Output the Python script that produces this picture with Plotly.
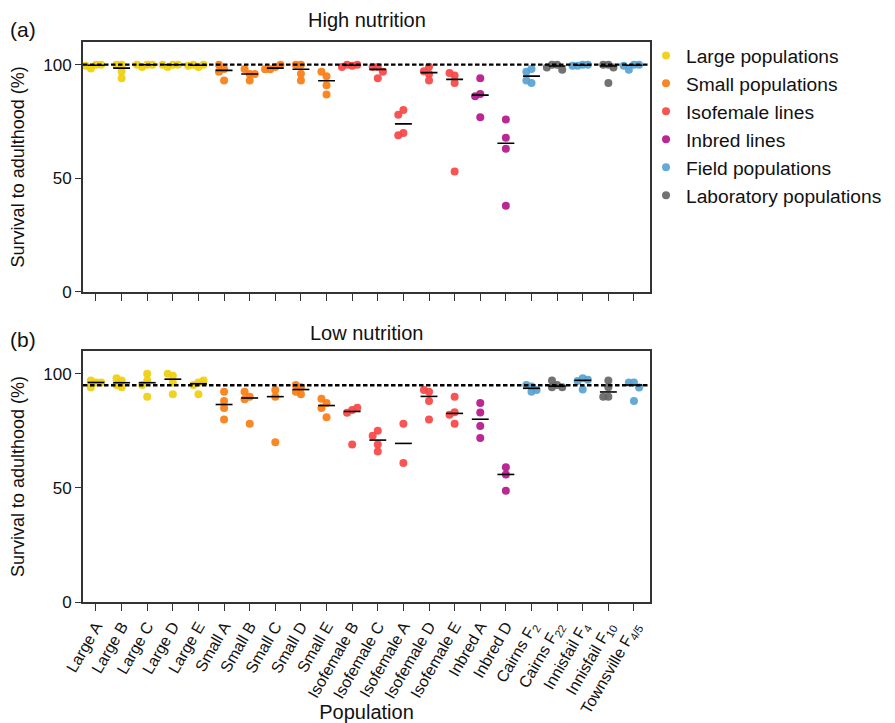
import numpy as np
import plotly.graph_objects as go

# ---------------- data ----------------
POPULATIONS = ["Large A", "Large B", "Large C", "Large D", "Large E",
               "Small A", "Small B", "Small C", "Small D", "Small E",
               "Isofemale B", "Isofemale C", "Isofemale A", "Isofemale D", "Isofemale E",
               "Inbred A", "Inbred D",
               "Cairns F<sub>2</sub>", "Cairns F<sub>22</sub>", "Innisfail F<sub>4</sub>",
               "Innisfail F<sub>10</sub>", "Townsville F<sub>4/5</sub>"]

POP_GROUP = ["Large populations"] * 5 + ["Small populations"] * 5 + ["Isofemale lines"] * 5 + \
            ["Inbred lines"] * 2 + ["Field populations", "Laboratory populations", "Field populations",
                                    "Laboratory populations", "Field populations"]

GROUP_NAMES = ["Large populations", "Small populations", "Isofemale lines",
               "Inbred lines", "Field populations", "Laboratory populations"]

HIGH_NUTRITION = [
    [100, 98.3, 100, 99.5], [100, 94, 100, 97], [100, 99, 100, 100], [100, 99, 100, 100],
    [99, 100, 100, 99.5], [98.1, 96.9, 100, 93.0], [95.9, 98.1, 95.9, 93.0], [99, 98, 100, 98],
    [100, 93, 100, 96], [94.9, 91.0, 96.9, 86.9], [99.5, 100, 100, 99], [99, 94, 99, 96.9],
    [80.0, 78.0, 69.9, 68.9], [99.1, 93.0, 95.9, 97.1], [95.2, 96.3, 91.9, 53.0],
    [94.0, 87.1, 86.1, 76.9], [75.9, 67.8, 63.0, 37.9], [98.1, 96.9, 91.9, 93.0],
    [100, 100, 97.8, 98.8], [100, 99.5, 100, 99.5], [100, 100, 98.8, 91.9], [100, 97.8, 100, 99.5],
]

LOW_NUTRITION = [
    [96.2, 94.0, 97.1, 96.2], [97.1, 98.1, 94.1, 95.1], [100, 97.1, 95.1, 90.0], [99.1, 100, 96.2, 91.0],
    [96.2, 95.1, 97.1, 91.0], [88.1, 92.1, 85.0, 80.0], [90.0, 88.8, 92.1, 78.1], [92.9, 90.0, 70.0],
    [94.1, 95.1, 91.0, 92.1], [87.2, 89.1, 85.0, 81.0], [84.1, 82.9, 85.1, 69.0], [75.1, 72.9, 69.0, 66.0],
    [78.1, 60.9], [92.1, 92.9, 88.1, 80.0], [90.0, 83.2, 82.1, 78.1], [87.2, 83.1, 77.1, 71.9],
    [59.0, 55.9, 48.8], [94.4, 95.1, 92.1, 92.9], [95.1, 97.1, 94.1, 94.1], [98.1, 96.9, 97.4, 93.1],
    [97.1, 94.1, 90.0, 90.0], [96.2, 96.2, 94.0, 88.1],
]

REFERENCE_HIGH = 100
REFERENCE_LOW = 95

# ---------------- styling ----------------
COLORS = {
    "Large populations": "#EFCF0C",
    "Small populations": "#FA7D14",
    "Isofemale lines": "#F84545",
    "Inbred lines": "#B3168A",
    "Field populations": "#58A2D3",
    "Laboratory populations": "#666666",
}
FONT = "Arial, Liberation Sans, Helvetica, sans-serif"
AXIS_COLOR = "#333333"
TXT = "#111111"

# page body adds an 8px margin, so the figure is drawn 8px smaller and offset
W, H = 887, 715
ML, MR, MT, MB = 75, 245, 34, 121
PX_PER_CAT = (W - ML - MR) / 22.13
PX_PER_UNIT = 2.27


def swarm_offsets(vals, step=0.2, min_px=5.0):
    placed = []
    offs = []
    cands = [0, -step, step, -2 * step, 2 * step, -3 * step, 3 * step]
    for v in vals:
        chosen = cands[-1]
        for c in cands:
            ok = True
            for (pc, pv) in placed:
                dx = (c - pc) * PX_PER_CAT
                dy = (v - pv) * PX_PER_UNIT
                if (dx * dx + dy * dy) ** 0.5 < min_px:
                    ok = False
                    break
            if ok:
                chosen = c
                break
        placed.append((chosen, v))
        offs.append(chosen)
    return offs


fig = go.Figure()

for panel, (data, xa, ya) in enumerate([(HIGH_NUTRITION, "x", "y"), (LOW_NUTRITION, "x2", "y2")]):
    for g in GROUP_NAMES:
        xs, ys = [], []
        for i, vals in enumerate(data):
            if POP_GROUP[i] != g:
                continue
            offs = swarm_offsets(vals)
            for v, o in zip(vals, offs):
                xs.append(i + o)
                ys.append(v)
        fig.add_trace(go.Scatter(
            x=xs, y=ys, mode="markers", name=g, legendgroup=g,
            showlegend=(panel == 0),
            marker=dict(color=COLORS[g], size=8, opacity=0.92, line=dict(width=0)),
            xaxis=xa, yaxis=ya, hoverinfo="skip"))
    mx, my = [], []
    for i, vals in enumerate(data):
        m = float(np.median(vals))
        mx += [i - 0.33, i + 0.33, None]
        my += [m, m, None]
    fig.add_trace(go.Scatter(x=mx, y=my, mode="lines", line=dict(color="black", width=1.6),
                             showlegend=False, xaxis=xa, yaxis=ya, hoverinfo="skip"))

for yref, val in [("y", REFERENCE_HIGH), ("y2", REFERENCE_LOW)]:
    xr = "x domain" if yref == "y" else "x2 domain"
    fig.add_shape(type="line", xref=xr, yref=yref, x0=0, x1=0.997, y0=val, y1=val,
                  line=dict(color="black", width=2.3, dash="4.5px,2.5px"), layer="above")

plot_h = H - MT - MB
top_bottom = (H - MB - 283.7) / plot_h
bot_top = (H - MB - 343) / plot_h

xrange = [-0.507, 21.626]
common_x = dict(range=xrange, tickmode="array", tickvals=list(range(22)),
                ticks="outside", ticklen=7, tickwidth=1.3, tickcolor=AXIS_COLOR,
                showline=True, linecolor=AXIS_COLOR, linewidth=1.8, mirror=True,
                showgrid=False, zeroline=False, automargin=False)
common_y = dict(range=[0, 110], tickmode="array", tickvals=[0, 50, 100],
                ticks="outside", ticklen=6, tickwidth=1.3, tickcolor=AXIS_COLOR,
                showline=True, linecolor=AXIS_COLOR, linewidth=1.8, mirror=True,
                showgrid=False, zeroline=False, tickfont=dict(size=17, color=TXT), automargin=False,
                title=dict(text="Survival to adulthood (%)", font=dict(size=18, color=TXT), standoff=19))

fig.update_layout(
    width=W, height=H,
    margin=dict(l=ML, r=MR, t=MT, b=MB, autoexpand=False),
    plot_bgcolor="white", paper_bgcolor="white",
    font=dict(family=FONT, color=TXT),
    xaxis=dict(**common_x, domain=[0, 1], anchor="y", ticktext=[""] * 22),
    yaxis=dict(**common_y, domain=[top_bottom, 1], anchor="x"),
    xaxis2=dict(**common_x, domain=[0, 1], anchor="y2", ticktext=POPULATIONS, tickangle=-60,
                tickfont=dict(size=16, color=TXT),
                title=dict(text="Population", font=dict(size=20, color=TXT), standoff=2)),
    yaxis2=dict(**common_y, domain=[0, bot_top], anchor="x2"),
    legend=dict(x=0.993, y=1.01, xanchor="left", yanchor="top",
                font=dict(size=19.2, color=TXT), tracegroupgap=0,
                bgcolor="rgba(0,0,0,0)", traceorder="grouped", itemsizing="trace"),
    showlegend=True,
)

fig.add_annotation(text="High nutrition", xref="paper", yref="paper", x=0.5, y=1,
                   yanchor="middle", yshift=22, showarrow=False, font=dict(size=20, color=TXT))
fig.add_annotation(text="Low nutrition", xref="paper", yref="paper", x=0.5, y=bot_top,
                   yanchor="middle", yshift=18, showarrow=False, font=dict(size=20, color=TXT))
fig.add_annotation(text="(a)", xref="paper", yref="paper", x=-0.105, y=1, yshift=13,
                   xanchor="center", yanchor="middle", showarrow=False, font=dict(size=21, color=TXT))
fig.add_annotation(text="(b)", xref="paper", yref="paper", x=-0.105, y=bot_top, yshift=12,
                   xanchor="center", yanchor="middle", showarrow=False, font=dict(size=21, color=TXT))

fig.write_html("out.html")
